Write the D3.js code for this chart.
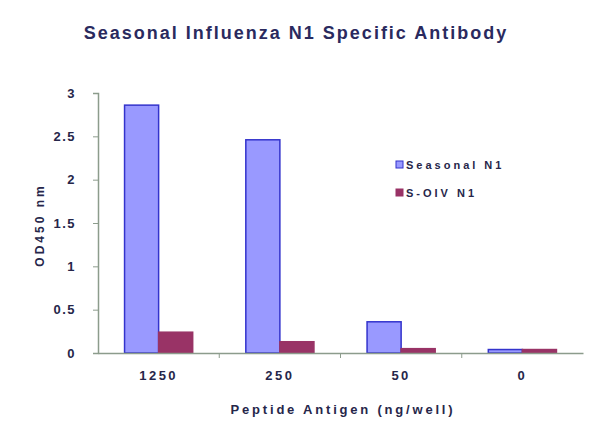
<!DOCTYPE html>
<html><head><meta charset="utf-8">
<script src="https://cdn.jsdelivr.net/npm/d3@7"></script>
<style>body{margin:0;background:#fff}</style>
</head><body>
<svg id="c" width="600" height="447"></svg>
<script>
const categories = ["1250", "250", "50", "0"];
const seriesNames = ["Seasonal N1", "S-OIV N1"];
const seasonal = [2.86, 2.46, 0.36, 0.04];
const soiv = [0.24, 0.13, 0.05, 0.04];
const yTicks = [0, 0.5, 1, 1.5, 2, 2.5, 3];

const svg = d3.select("#c");
const FF = "Liberation Sans, Arial, sans-serif";
const m = {l: 98, r: 17, t: 93, b: 94};
const W = 600, H = 447;
const x = d3.scaleBand().domain(categories).range([m.l, W - m.r]).paddingInner(0).paddingOuter(0);
const xs = d3.scaleBand().domain(seriesNames).range([0, x.bandwidth()]).paddingInner(0).paddingOuter(0.78);
const y = d3.scaleLinear().domain([0, 3]).range([H - m.b, m.t]);
const fills = ["#9999ff", "#993366"];
const strokes = ["#3333cc", "#993366"];
const axisCol = "#8c9c8c";
const textCol = "#26264a";

svg.append("text").attr("x", 296).attr("y", 39).attr("text-anchor", "middle")
  .attr("font-family", FF).attr("font-weight", "bold").attr("letter-spacing", 2)
  .attr("font-size", 18).attr("fill", "#2a2a5e").text("Seasonal Influenza N1 Specific Antibody");

const data = categories.map((c, i) => ({c, v: [seasonal[i], soiv[i]]}));
const g = svg.append("g");
data.forEach(d => {
  d.v.forEach((v, j) => {
    g.append("rect")
      .attr("x", x(d.c) + xs(seriesNames[j]))
      .attr("y", y(v))
      .attr("width", xs.bandwidth())
      .attr("height", y(0) - y(v))
      .attr("fill", fills[j]).attr("stroke", strokes[j]).attr("stroke-width", 1.5);
  });
});

// y axis
const ya = svg.append("g").attr("transform", `translate(${m.l},0)`)
  .call(d3.axisLeft(y).tickValues(yTicks).tickSize(5).tickFormat(d3.format("~g")));
ya.select(".domain").attr("stroke", axisCol).attr("stroke-width", 1.5);
ya.selectAll(".tick line").attr("stroke", axisCol);
ya.selectAll("text").attr("font-family", FF).attr("font-weight", "bold").attr("font-size", 13)
  .attr("letter-spacing", 1.5).attr("fill", textCol).attr("dx", -14);

// x axis
const xa = svg.append("g").attr("transform", `translate(0,${y(0)})`)
  .call(d3.axisBottom(x).tickSize(0).tickSizeOuter(0));
xa.select(".domain").attr("stroke", axisCol).attr("stroke-width", 1.5);
xa.selectAll("text").attr("font-family", FF).attr("font-weight", "bold").attr("font-size", 13)
  .attr("letter-spacing", 2.5).attr("fill", textCol).attr("dy", "1.85em");
categories.slice(1).forEach(c => {
  svg.append("line").attr("x1", x(c)).attr("x2", x(c)).attr("y1", y(0)).attr("y2", y(0) + 5).attr("stroke", axisCol);
});

svg.append("text").attr("x", 343).attr("y", 414).attr("text-anchor", "middle")
  .attr("font-family", FF).attr("font-weight", "bold").attr("letter-spacing", 2.8)
  .attr("font-size", 13).attr("fill", textCol).text("Peptide Antigen (ng/well)");
svg.append("text").attr("transform", "translate(44,225) rotate(-90)").attr("text-anchor", "middle")
  .attr("font-family", FF).attr("font-weight", "bold").attr("letter-spacing", 3)
  .attr("font-size", 12).attr("fill", textCol).text("OD450 nm");

// legend
const lg = svg.append("g").attr("transform", "translate(396,161)");
seriesNames.forEach((n, i) => {
  lg.append("rect").attr("x", 0).attr("y", i * 28).attr("width", 7).attr("height", 7)
    .attr("fill", fills[i]).attr("stroke", strokes[i]);
  lg.append("text").attr("x", 10).attr("y", i * 28 + 8)
    .attr("font-family", FF).attr("font-weight", "bold").attr("font-size", 11).attr("letter-spacing", 3)
    .attr("fill", textCol).text(n);
});
</script>
</body></html>
